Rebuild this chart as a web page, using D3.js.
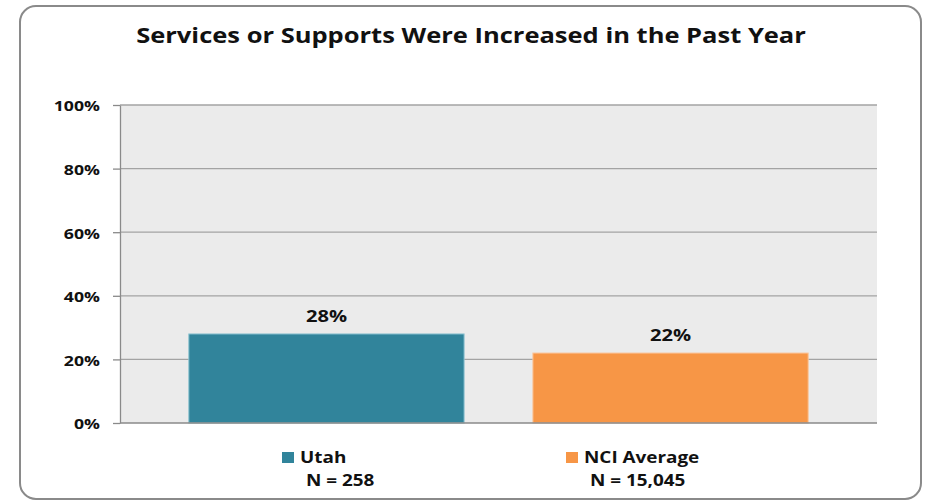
<!DOCTYPE html>
<html>
<head>
<meta charset="utf-8">
<script src="https://cdn.jsdelivr.net/npm/d3@7"></script>
<style>
  html, body { margin: 0; padding: 0; background: #ffffff; }
  svg { display: block; }
  text { font-family: "Open Sans", Lato, sans-serif; font-weight: bold; fill: #111; }
</style>
</head>
<body>
<svg id="chart" width="925" height="502"></svg>
<script>
// Chart data
const title = "Services or Supports Were Increased in the Past Year";
const categories = ["Utah", "NCI Average"];
const values = [28, 22];
const sampleSizes = ["N = 258", "N = 15,045"];
const colors = ["#31849b", "#f79646"];
const edgeColors = ["#8cc3d1", "#fbc59a"];
const yTicks = [0, 20, 40, 60, 80, 100];

// Text is drawn slightly widened
const stretch = 1.22;
const place = (x, y, s = stretch) => `translate(${x},${y}) scale(${s},1)`;

const svg = d3.select("#chart");

// Rounded frame around the whole chart
svg.append("rect")
  .attr("x", 20).attr("y", 6)
  .attr("width", 901).attr("height", 493)
  .attr("rx", 16).attr("ry", 16)
  .attr("fill", "#ffffff")
  .attr("stroke", "#8a8a8a")
  .attr("stroke-width", 2);

svg.append("text")
  .attr("transform", place(471, 43, 1.16))
  .attr("text-anchor", "middle")
  .style("font-size", "22px")
  .text(title);

const plot = { left: 120, right: 877, top: 105, bottom: 423 };

const x = d3.scaleBand()
  .domain(categories)
  .range([plot.left, plot.right])
  .paddingInner(0.2)
  .paddingOuter(0.2);

const y = d3.scaleLinear()
  .domain([0, 100])
  .range([plot.bottom, plot.top]);

// Plot background
svg.append("rect")
  .attr("x", plot.left).attr("y", plot.top)
  .attr("width", plot.right - plot.left)
  .attr("height", plot.bottom - plot.top)
  .attr("fill", "#ebebeb");

// Horizontal gridlines
svg.append("g")
  .selectAll("line")
  .data(yTicks.filter(d => d > 0))
  .join("line")
  .attr("x1", plot.left).attr("x2", plot.right)
  .attr("y1", d => y(d)).attr("y2", d => y(d))
  .attr("stroke", "#a3a3a3")
  .attr("stroke-width", 1.3);

// Y axis
const yAxis = svg.append("g")
  .attr("transform", `translate(${plot.left},0)`)
  .call(d3.axisLeft(y)
    .tickValues(yTicks)
    .tickFormat(d => d + "%")
    .tickSize(7)
    .tickSizeOuter(0)
    .tickPadding(13));
yAxis.select(".domain").attr("stroke", "#8a8a8a").attr("stroke-width", 1.3);
yAxis.selectAll(".tick line").attr("stroke", "#8a8a8a").attr("stroke-width", 1.3);
yAxis.selectAll(".tick text")
  .attr("x", 0)
  .attr("dy", "0.4em")
  .attr("transform", place(-20, 0))
  .style("font-family", "'Open Sans', Lato, sans-serif")
  .style("font-weight", "bold")
  .style("font-size", "14.5px")
  .attr("fill", "#111");

// Bars
svg.append("g")
  .selectAll("rect")
  .data(values)
  .join("rect")
  .attr("x", (d, i) => x(categories[i]))
  .attr("y", d => y(d))
  .attr("width", x.bandwidth())
  .attr("height", d => y(0) - y(d))
  .attr("fill", (d, i) => colors[i])
  .attr("stroke", (d, i) => edgeColors[i])
  .attr("stroke-width", 1);

// Baseline
svg.append("line")
  .attr("x1", plot.left).attr("x2", plot.right)
  .attr("y1", plot.bottom).attr("y2", plot.bottom)
  .attr("stroke", "#8a8a8a")
  .attr("stroke-width", 1.3);

// Value labels
svg.append("g")
  .selectAll("text")
  .data(values)
  .join("text")
  .attr("transform", (d, i) => place(x(categories[i]) + x.bandwidth() / 2, y(d) - 12))
  .attr("text-anchor", "middle")
  .style("font-size", "16.5px")
  .text(d => d + "%");

// Legend
const legendPos = [{ x: 282, y: 452 }, { x: 566, y: 452 }];
const legend = svg.append("g")
  .selectAll("g")
  .data(categories)
  .join("g")
  .attr("transform", (d, i) => `translate(${legendPos[i].x},${legendPos[i].y})`);

legend.append("rect")
  .attr("width", 12).attr("height", 11)
  .attr("fill", (d, i) => colors[i]);

legend.append("text")
  .attr("transform", place(18, 11))
  .style("font-size", "15.5px")
  .text(d => d);

legend.append("text")
  .attr("transform", place(24, 34))
  .style("font-size", "15.5px")
  .text((d, i) => sampleSizes[i]);
</script>
</body>
</html>
